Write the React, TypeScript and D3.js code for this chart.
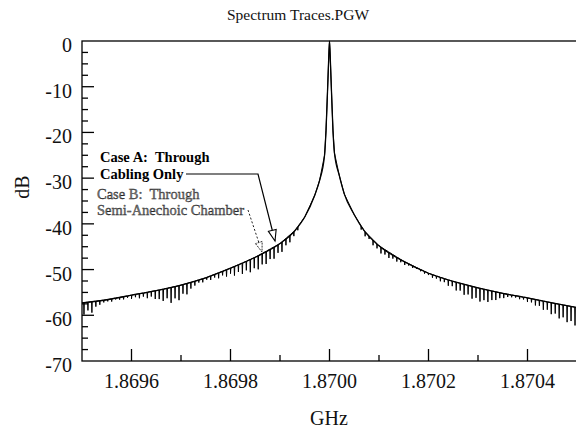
import React from "react";
import * as d3 from "d3";

// ---------- data ----------
const caseAFreq = [
  1.8695, 1.86955, 1.8696, 1.86965, 1.8697, 1.86975, 1.8698, 1.86985, 1.8699,
  1.86993, 1.86995, 1.86997, 1.86998, 1.86999, 1.869993, 1.869996, 1.869998,
  1.87, 1.870002, 1.870004, 1.870007, 1.87001, 1.87002, 1.87003, 1.87005,
  1.87007, 1.8701, 1.87015, 1.8702, 1.87025, 1.8703, 1.87035, 1.8704, 1.87045,
  1.8705,
];
const caseADb = [
  -57.3, -56.6, -55.6, -54.6, -53.4, -51.8, -49.7, -47.3, -44.3,
  -41.5, -38.5, -33.8, -30.5, -25, -19.5, -11, -5,
  0, -5, -11, -19.5, -24.5, -29.5, -33.5, -38,
  -41.5, -44.8, -48.2, -50.8, -52.6, -54.0, -55.2, -56.2, -57.3,
  -58.3,
];

// Case B: notches below the Case A trace (offset in kHz from 1.8695 GHz, depth in dB)
const dipKHzLeft = [
  4, 12, 20, 28, 36, 44, 52, 60, 68, 76, 84, 92, 100, 108, 116, 124, 132, 140, 148,
  156, 164, 172, 180, 188, 196, 204, 212, 220, 228, 236, 244, 252, 260, 268, 276,
  284, 292, 300, 308, 316, 324, 332, 340, 348, 356, 364, 372, 380, 388, 396, 404,
  412, 420, 428, 436,
];
const dipDepthLeft = [
  2.6, 1.8, 2.4, 1.2, 0.9, 0.5, 0.4, 0.6, 0.3, 0.5,
  0.6, 0.4, 0.8, 0.6, 1.0, 0.8, 1.3, 1.1, 1.8, 2.0,
  2.6, 2.2, 3.4, 2.6, 3.2, 2.0, 2.4, 1.4, 1.0, 0.6,
  0.8, 0.5, 0.9, 0.7, 1.2, 0.9, 1.5, 1.2, 2.0, 1.6,
  2.4, 2.0, 2.8, 2.3, 3.0, 2.4, 2.8, 2.2, 2.6, 1.8,
  2.2, 1.5, 1.6, 1.0, 0.8,
];
const dipKHzRight = [
  564, 572, 580, 588, 596, 604, 612, 620, 628, 636, 644, 652, 660, 668, 676, 684,
  692, 700, 708, 716, 724, 732, 740, 748, 756, 764, 772, 780, 788, 796, 804, 812,
  820, 828, 836, 844, 852, 860, 868, 876, 884, 892, 900, 908, 916, 924, 932, 940,
  948, 956, 964, 972, 980, 988, 996,
];
const dipDepthRight = [
  0.8, 1.0, 0.7, 1.2, 1.0, 1.4, 1.1, 1.3, 0.9, 1.0,
  0.6, 0.7, 0.4, 0.5, 0.3, 0.4, 0.5, 0.4, 0.7, 0.6,
  0.9, 0.8, 1.3, 1.1, 1.8, 1.6, 2.3, 2.0, 2.7, 2.3,
  2.9, 2.4, 2.6, 2.0, 1.8, 1.2, 1.0, 0.6, 0.5, 0.4,
  0.6, 0.5, 0.9, 0.8, 1.3, 1.2, 1.9, 1.7, 2.5, 2.2,
  3.1, 2.7, 3.6, 3.2, 4.0,
];

const xMajorTicks = [1.8696, 1.8698, 1.87, 1.8702, 1.8704];
const xTickLabels = ["1.8696", "1.8698", "1.8700", "1.8702", "1.8704"];
const xMinorTicks = [1.8697, 1.8699, 1.8701, 1.8703];
const yMajorTicks = [0, -10, -20, -30, -40, -50, -60, -70];
const yTickLabels = ["0", "-10", "-20", "-30", "-40", "-50", "-60", "-70"];

const title = "Spectrum Traces.PGW";
const xTitle = "GHz";
const yTitle = "dB";
const caseALabel = ["Case A:\u00a0 Through", "Cabling Only"];
const caseBLabel = ["Case B:\u00a0 Through", "Semi-Anechoic Chamber"];

// ---------- layout ----------
const W = 576;
const H = 428;
const L = 82;
const R = 577;
const T = 41;
const B = 361;
const SERIF = "Liberation Serif";

function arrowHead(sx: number, sy: number, tx: number, ty: number, len = 11, half = 4) {
  const dx = tx - sx;
  const dy = ty - sy;
  const d = Math.hypot(dx, dy);
  const ux = dx / d;
  const uy = dy / d;
  const bx = tx - ux * len;
  const by = ty - uy * len;
  return `${bx - uy * half},${by + ux * half} ${tx},${ty} ${bx + uy * half},${by - ux * half}`;
}

export default function App() {
  const x = d3.scaleLinear().domain([1.8695, 1.8705]).range([L, R]);
  const y = d3.scaleLinear().domain([-70, 0]).range([B, T]);
  const base = d3.scaleLinear().domain(caseAFreq).range(caseADb);

  const ptsA: [number, number][] = caseAFreq.map((f, i) => [f, caseADb[i]]);
  const lineA = d3
    .line<[number, number]>()
    .x((d) => x(d[0]))
    .y((d) => y(d[1]))
    .curve(d3.curveMonotoneX);

  const half = 0.7e-6;
  const ptsB: [number, number][] = [...ptsA];
  const addDips = (k: number[], dep: number[]) =>
    k.forEach((kh, i) => {
      const f = 1.8695 + kh * 1e-6;
      ptsB.push([f - half, base(f - half)]);
      ptsB.push([f, base(f) - dep[i]]);
      ptsB.push([f + half, base(f + half)]);
    });
  addDips(dipKHzLeft, dipDepthLeft);
  addDips(dipKHzRight, dipDepthRight);
  ptsB.sort((a, b) => a[0] - b[0]);
  const lineB = d3
    .line<[number, number]>()
    .x((d) => x(d[0]))
    .y((d) => y(d[1]));

  const yMinor = d3.range(-67.5, 0, 2.5).filter((v) => v % 10 !== 0);

  const aStart: [number, number] = [258, 174];
  const aTip: [number, number] = [275, 241];
  const bStart: [number, number] = [248, 210];
  const bTip: [number, number] = [262, 252];

  return (
    <div style={{ position: "fixed", left: 0, top: 0, fontFamily: SERIF }}>
      <svg width={W} height={H} fontFamily={SERIF} style={{ display: "block", fontFamily: SERIF }}>
        <rect x={0} y={0} width={W} height={H} fill="#fff" />
        <text x={298} y={20} fontSize={15.5} textAnchor="middle" fill="#111">
          {title}
        </text>

        {/* traces */}
        <path d={lineB(ptsB) || ""} fill="none" stroke="#000" strokeWidth={1} />
        <path d={lineA(ptsA) || ""} fill="none" stroke="#000" strokeWidth={1.3} />

        {/* frame */}
        <rect x={L} y={T} width={R - L} height={B - T} fill="none" stroke="#000" strokeWidth={1.3} />

        {/* x ticks */}
        {xMajorTicks.map((t, i) => (
          <g key={"xm" + i}>
            <line x1={x(t)} x2={x(t)} y1={B} y2={B - 12} stroke="#000" strokeWidth={1.3} />
            <text x={x(t)} y={388} fontSize={20} textAnchor="middle" fill="#111">
              {xTickLabels[i]}
            </text>
          </g>
        ))}
        {xMinorTicks.map((t, i) => (
          <line key={"xn" + i} x1={x(t)} x2={x(t)} y1={B} y2={B - 6} stroke="#000" strokeWidth={1.3} />
        ))}

        {/* y ticks */}
        {yMajorTicks.map((t, i) => (
          <g key={"ym" + i}>
            {t !== 0 && t !== -70 && (
              <line x1={L} x2={L + 12} y1={y(t)} y2={y(t)} stroke="#000" strokeWidth={1.3} />
            )}
            <text x={72} y={y(t) + 11} fontSize={20} textAnchor="end" fill="#111">
              {yTickLabels[i]}
            </text>
          </g>
        ))}
        {yMinor.map((t, i) => (
          <line key={"yn" + i} x1={L} x2={L + 6} y1={y(t)} y2={y(t)} stroke="#000" strokeWidth={1.3} />
        ))}

        <text x={329} y={425} fontSize={20} textAnchor="middle" fill="#111">
          {xTitle}
        </text>
        <text transform={`translate(29,187) rotate(-90)`} fontSize={20} textAnchor="middle" fill="#111">
          {yTitle}
        </text>

        {/* Case A annotation */}
        <text x={100} y={162} fontSize={14.5} fontWeight="bold" fill="#000">
          {caseALabel[0]}
        </text>
        <text x={100} y={179} fontSize={14.5} fontWeight="bold" fill="#000">
          {caseALabel[1]}
        </text>
        <polyline
          points={`186,174 ${aStart[0]},${aStart[1]} ${aTip[0]},${aTip[1]}`}
          fill="none"
          stroke="#000"
          strokeWidth={1.2}
        />
        <polygon points={arrowHead(aStart[0], aStart[1], aTip[0], aTip[1])} fill="#fff" stroke="#000" strokeWidth={1.1} />

        {/* Case B annotation */}
        <text x={97} y={199} fontSize={14.5} fill="#777" stroke="#222" strokeWidth={0.35}>
          {caseBLabel[0]}
        </text>
        <text x={97} y={215} fontSize={14.5} fill="#777" stroke="#222" strokeWidth={0.35}>
          {caseBLabel[1]}
        </text>
        <line
          x1={bStart[0]}
          y1={bStart[1]}
          x2={bTip[0]}
          y2={bTip[1]}
          stroke="#222"
          strokeWidth={1}
          strokeDasharray="2,2"
        />
        <polygon
          points={arrowHead(bStart[0], bStart[1], bTip[0], bTip[1], 10, 3.5)}
          fill="#fff"
          stroke="#333"
          strokeWidth={1}
          strokeDasharray="2,1"
        />
      </svg>
    </div>
  );
}
